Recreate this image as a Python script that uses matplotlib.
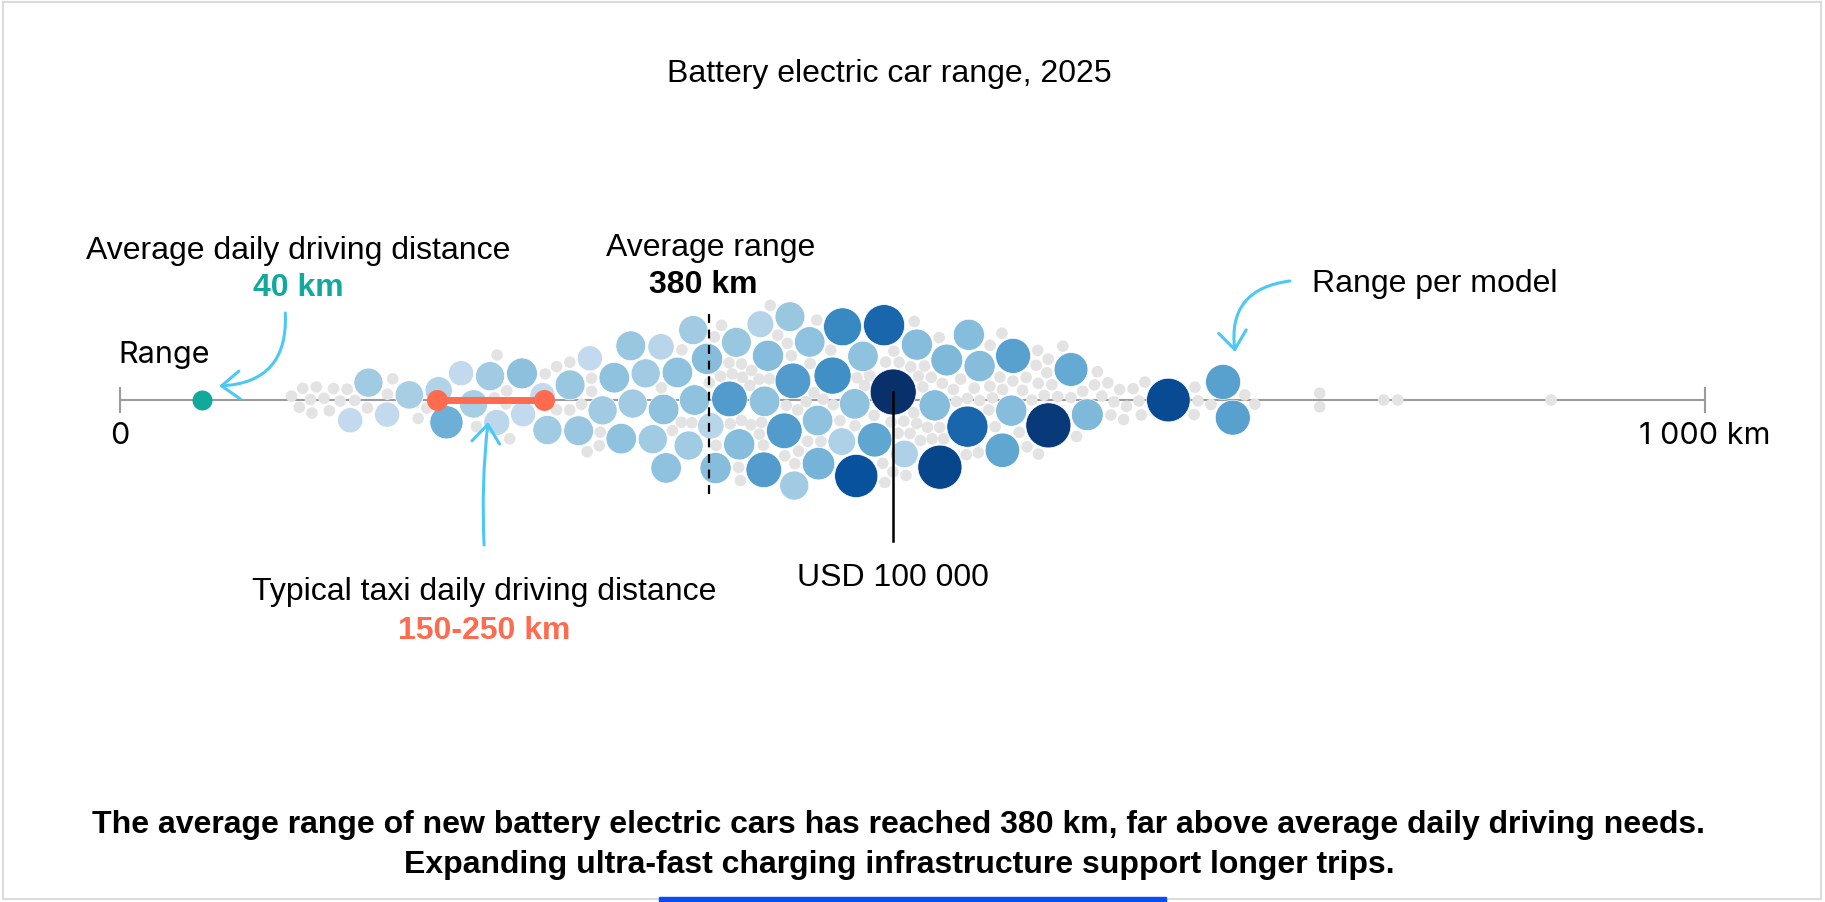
import numpy as np
import matplotlib.pyplot as plt
import matplotlib.colors as mcolors
from matplotlib.patches import FancyArrowPatch, Rectangle

# models with a price: WLTP range (km) and price (USD)
model_range_km = [
    147, 159, 169, 184, 202, 206.5, 217, 224, 232, 239, 254, 256, 268, 274,
    289, 294, 298, 311, 314, 320, 328, 329, 331, 338, 343, 348, 348, 357, 359,
    364.2, 364.2, 374.3, 374.3, 382.5, 384.4, 389.4, 393.2, 406.4, 407.7,
    409.6, 412.8, 419.1, 425.9, 427.3, 429.8, 434.8, 438.6, 446.2, 449.4,
    449.4, 454.4, 459.5, 461.3, 471.5, 477.1, 484.1, 484.7, 497.3, 500.4,
    511.1, 515.6, 515.6, 531.4, 533.2, 537.6, 552.2, 557.8, 559.1, 580.6,
    593.8, 605.2, 660.7, 696.6, 701.7,
]
model_price_usd = [
    30000, 40000, 30000, 38000, 35000, 52000, 30000, 38000, 40000, 32000,
    30000, 45000, 30000, 40000, 42000, 42000, 30000, 40000, 44000, 44000,
    40000, 42000, 40000, 40000, 33000, 44000, 44000, 44000, 40000,
    40000, 44000, 33000, 46000, 60000, 46000, 42000, 46000, 34000, 44000,
    60000, 46000, 60000, 42000, 60000, 40000, 44000, 44000, 50000, 65000,
    36000, 68000, 44000, 88000, 44000, 56000, 80000, 100000, 36000, 46000,
    46000, 92000, 48000, 80000, 46000, 46000, 56000, 58000, 46000, 96000,
    54000, 48000, 90000, 58000, 58000,
]

# models without a price (grey dots)
other_range_km = [
    109.2, 113.2, 116.3, 120.1, 121.2, 124.3, 128.5, 131.7, 135.9, 139.7,
    147, 154.2, 157.9, 169.5, 173.7, 190.5, 192.6, 227.3, 236.3, 242.5,
    243.1, 245.2, 250, 264.1, 278.9, 279.9, 286.2, 286.8, 296.7, 300.9,
    303, 304.1, 307.2, 310.4, 341.5, 347.6, 348.9, 359.8,
    367.4, 375.6, 376.8, 380.0, 380.6, 381.9, 386.3, 386.9, 393.2, 393.2,
    394.5, 394.5, 396.4, 397.6, 399.5, 402.0, 403.9, 403.9, 405.2, 405.8,
    408.4, 412.1, 412.1, 414.7, 416.6, 419.7, 419.7, 422.9, 422.9, 427.3,
    427.3, 430.4, 434.2, 435.5, 437.4, 437.4, 439.9, 441.8, 443.7, 446.2,
    446.2, 462.0, 466.4, 468.3, 468.9, 468.9, 475.2, 477.7,
    481.5, 482.8, 487.8, 487.8, 490.3, 492.2, 495.4, 496.7, 498.6, 499.8,
    499.8, 500.4, 501.7, 501.7, 506.1, 506.8, 508.0, 509.3, 511.2, 514.3,
    515.6, 516.2, 518.7, 520.6, 525.1, 525.1, 525.7, 528.8, 532.0, 532.0,
    540.8, 542.7, 544.0, 544.6, 547.1, 547.8, 547.8, 553.4, 554.1, 558.5,
    563.5, 564.8, 566.0, 566.7, 569.2, 569.8, 572.4, 573.0, 573.0, 576.1,
    579.3, 580.6, 580.6, 588.8, 588.8, 595.1, 596.3, 601.4, 603.9, 610.8,
    616.5, 618.4, 618.4, 619.7, 624.7, 629.1, 631.0, 636.1, 638.6, 643.6,
    644.9, 645.5, 676.4, 676.4, 677.1, 689.0, 708.6, 715.5, 757.0, 757.0,
    797.4, 806.2, 902.9,
]

daily_marker_km = 52
taxi_km = [200, 268]
avg_line_km = 372
axis_km = [0, 1000]

W, H, DPI = 1825, 902, 100
FONT = "Liberation Sans"
ARROW = "#4cc9f3"
TEAL = "#12a99d"
CORAL = "#ff6b4f"

fig = plt.figure(figsize=(W / DPI, H / DPI), dpi=DPI)
ax = fig.add_axes([0, 0, 1, 1])
ax.set_xlim(-75.44, 1075.7)
ax.set_ylim(-502, 400)  # y in pixels, 0 on the axis line
ax.axis("off")
px_per_km = W / (ax.get_xlim()[1] - ax.get_xlim()[0])


def beeswarm(xt, r, pad=2.0, steps=400):
    n = len(xt)
    x = xt.copy()
    y = ((np.arange(n) * 0.6180339887) % 1.0 - 0.5) * 30.0
    m = r ** 2
    w = m[None, :] / (m[:, None] + m[None, :])
    rr = r[:, None] + r[None, :] + pad
    for k in range(steps):
        if k < steps - 40:
            x += (xt - x) * 0.25
            y -= y * 0.04
        for _ in range(2):
            dx = x[:, None] - x[None, :]
            dy = y[:, None] - y[None, :]
            d = np.hypot(dx, dy)
            np.fill_diagonal(d, np.inf)
            d = np.maximum(d, 1e-6)
            ov = np.clip(rr - d, 0, None)
            f = ov * w / d * 0.6
            x += (dx * f).sum(1)
            y += (dy * f).sum(1)
    return x, y


price = np.array(model_price_usd, float)
r_col = 23 * np.sqrt(price / 100000)
r_grey = np.full(len(other_range_km), 5.8)
all_km = np.array(model_range_km + other_range_km, float)
all_r = np.concatenate([r_col, r_grey])
sx, sy = beeswarm(all_km * px_per_km, all_r)
sx_km = sx / px_per_km
nc = len(model_range_km)


def size(r):
    return (2 * r * 72 / DPI) ** 2


# axis
ax.plot(axis_km, [0, 0], color="#9b9b9b", lw=1.5, zorder=1)
for t in axis_km:
    ax.plot([t, t], [-12, 12], color="#9b9b9b", lw=1.5, zorder=1)

ax.scatter(sx_km[nc:], sy[nc:], s=size(r_grey), color="#e3e3e3",
           linewidths=0, zorder=2)
norm = mcolors.Normalize(5000, 100000)
ax.scatter(sx_km[:nc], sy[:nc], s=size(r_col), c=price, cmap="Blues",
           norm=norm, edgecolors="white", linewidths=0.5, zorder=3)

# average range
ax.plot([avg_line_km, avg_line_km], [86, -95], color="black", lw=1.6,
        ls=(0, (4, 3)), zorder=4)

# most expensive model
top = int(np.argmax(price))
ax.plot([sx_km[top], sx_km[top]], [sy[top], -141], color="black", lw=1.8,
        zorder=4)
ax.text(sx_km[top], -178, "USD 100 000", ha="center", va="center",
        fontsize=23, family=FONT)

# daily driving marker and taxi range
ax.scatter([daily_marker_km], [0], s=size(10), color=TEAL, zorder=5,
           linewidths=0)
ax.plot(taxi_km, [0, 0], color=CORAL, lw=5, zorder=5, solid_capstyle="butt")
ax.scatter(taxi_km, [0, 0], s=size(10.5), color=CORAL, zorder=5, linewidths=0)

# labels
ax.text(112.5, 149, "Average daily driving distance", ha="center",
        va="center", fontsize=23, family=FONT)
ax.text(112.5, 112, "40 km", ha="center", va="center", fontsize=23,
        family=FONT, weight="bold", color=TEAL)
ax.text(28, 45, "Range", ha="center", va="center", fontsize=22,
        family="Inter")
ax.text(0, -36, "0", ha="center", va="center", fontsize=22, family="Inter")
ax.text(1000, -36, "1 000 km", ha="center", va="center", fontsize=22,
        family="Inter")
ax.text(373, 152, "Average range", ha="center", va="center", fontsize=23,
        family=FONT)
ax.text(368, 115, "380 km", ha="center", va="center", fontsize=23,
        family=FONT, weight="bold")
ax.text(752, 116, "Range per model", ha="left", va="center", fontsize=23,
        family=FONT)
ax.text(230, -192, "Typical taxi daily driving distance", ha="center",
        va="center", fontsize=23, family=FONT)
ax.text(230, -231, "150-250 km", ha="center", va="center", fontsize=23,
        family=FONT, weight="bold", color=CORAL)

# arrows
arrows = [
    ((104.5, 87), (62.7, 14), -0.5),
    ((229.9, -145), (232.4, -22), -0.04),
    ((738.2, 119), (703.6, 48), 0.5),
]
for a, b, rad in arrows:
    ax.add_patch(FancyArrowPatch(
        a, b, connectionstyle=f"arc3,rad={rad}",
        arrowstyle="->,head_length=0.65,head_width=0.5", mutation_scale=20,
        color=ARROW, lw=2.2, shrinkA=0, shrinkB=0, zorder=6))

fig.text(889 / W, 1 - 74 / H, "Battery electric car range, 2025",
         ha="center", va="center", fontsize=23, family=FONT)
fig.text(899 / W, 1 - 825 / H,
         "The average range of new battery electric cars has reached 380 km, "
         "far above average daily driving needs.",
         ha="center", va="center", fontsize=23, family=FONT, weight="bold")
fig.text(899 / W, 1 - 865 / H,
         "Expanding ultra-fast charging infrastructure support longer trips.",
         ha="center", va="center", fontsize=23, family=FONT, weight="bold")

fig.patches.append(Rectangle((3 / W, 3 / H), 1818 / W, 897 / H,
                             transform=fig.transFigure, fill=False,
                             ec="#dcdcdc", lw=1.5))
fig.patches.append(Rectangle((659 / W, 0), 507 / W, 5 / H,
                             transform=fig.transFigure, color="#0a4cf2"))

fig.savefig("out.png", dpi=DPI)
